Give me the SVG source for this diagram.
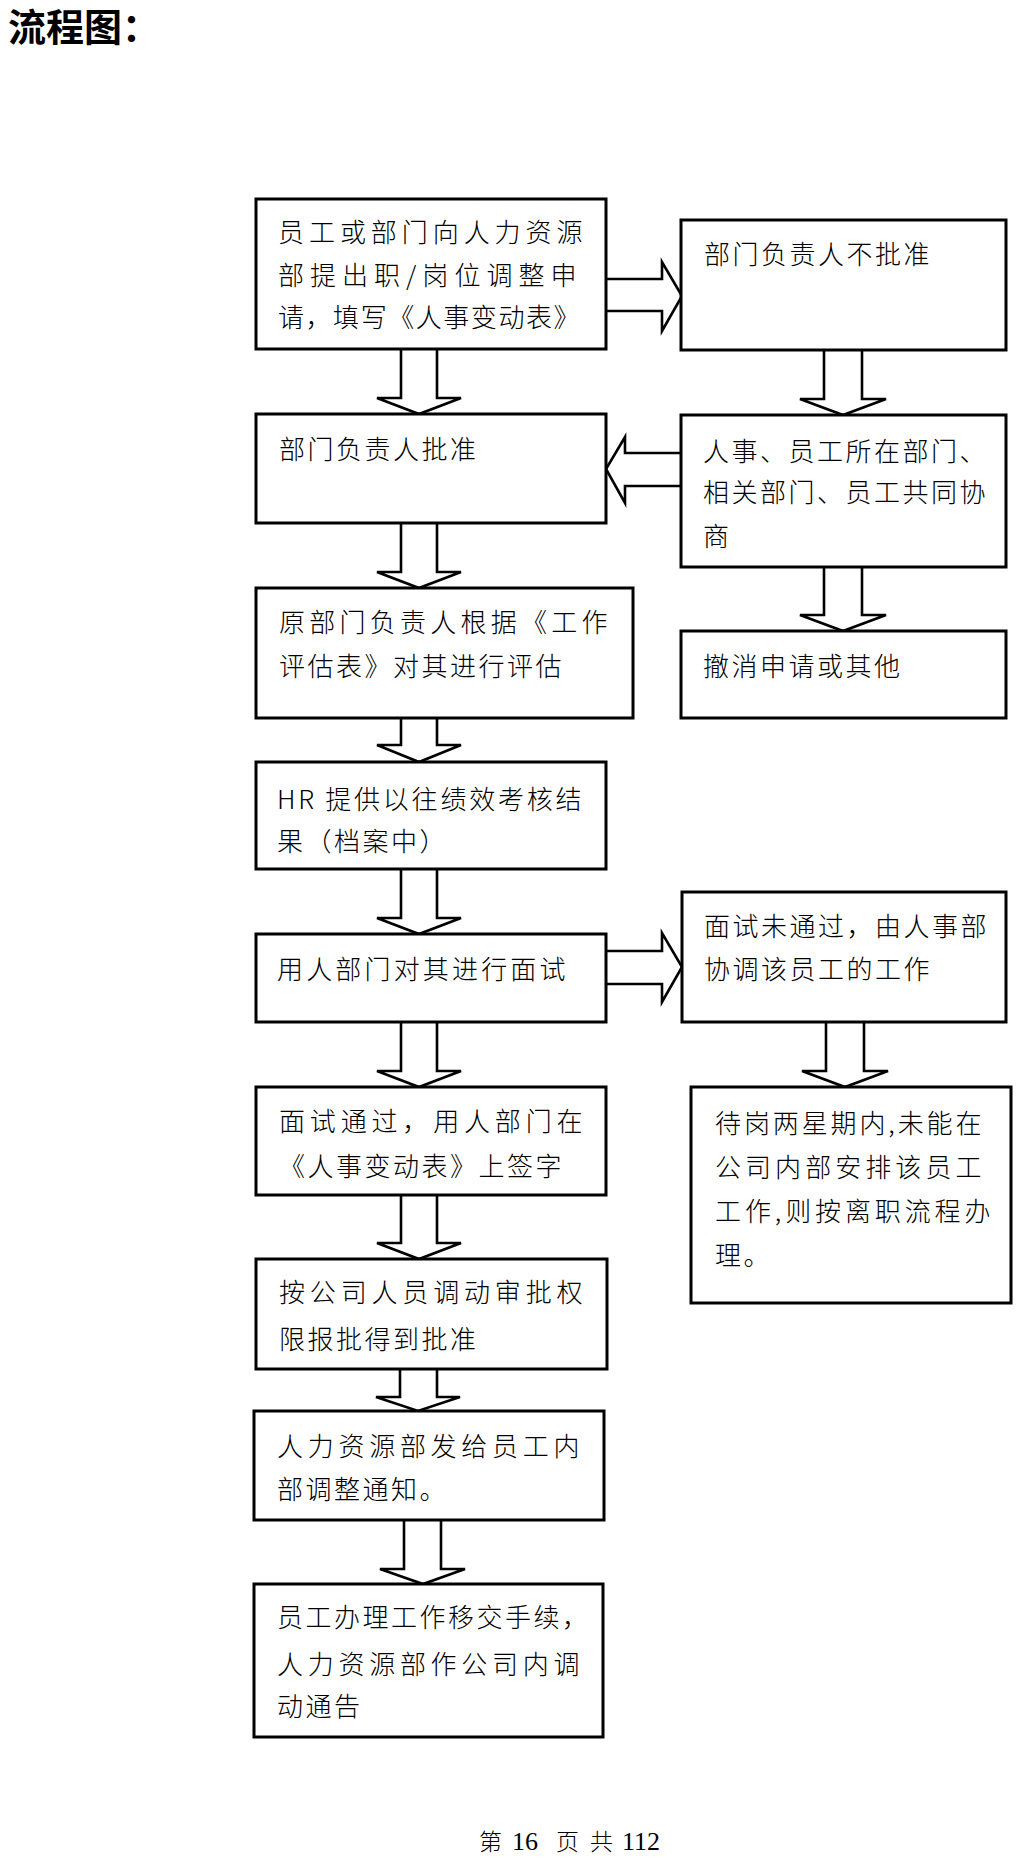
<svg xmlns="http://www.w3.org/2000/svg" width="1022" height="1862" viewBox="0 0 1022 1862">
<style>
.box{fill:#fff;stroke:#000;stroke-width:3}
.arr{fill:#fff;stroke:#000;stroke-width:2.6;stroke-linejoin:miter}
.t{font-family:"Noto Sans CJK SC","Noto Sans CJK JP",sans-serif;font-size:26px;font-weight:300;letter-spacing:2.5px;fill:#000}
.title{font-family:"Noto Sans CJK SC",sans-serif;font-size:38px;font-weight:bold;fill:#000}
.f{font-family:"Liberation Serif","Noto Sans CJK SC",serif;font-size:26px;fill:#000}
.fc{font-family:"Noto Sans CJK SC",serif;font-size:23px;font-weight:300;fill:#000}
</style>
<rect width="1022" height="1862" fill="#fff"/>
<text class="title" x="8" y="41">流程图：</text>

<g id="connectors">
<path class="arr" d="M401,349 V398 H377 L419,414 L461,398 H437 V349"/>
<path class="arr" d="M401,523 V572 H377 L419,588 L461,572 H437 V523"/>
<path class="arr" d="M401,718 V745 H377 L419,762 L461,745 H437 V718"/>
<path class="arr" d="M401,869 V918 H377 L419,934 L461,918 H437 V869"/>
<path class="arr" d="M401,1022 V1071 H377 L419,1087 L461,1071 H437 V1022"/>
<path class="arr" d="M401,1195 V1243 H377 L419,1259 L461,1243 H437 V1195"/>
<path class="arr" d="M400,1369 V1397 H376 L418,1411 L460,1397 H437 V1369"/>
<path class="arr" d="M404,1520 V1569 H380 L423,1584 L465,1569 H441 V1520"/>
<path class="arr" d="M824,350 V399 H800 L843,415 L886,399 H862 V350"/>
<path class="arr" d="M824,567 V615 H800 L843,631 L886,615 H862 V567"/>
<path class="arr" d="M826,1022 V1071 H802 L845,1087 L888,1071 H864 V1022"/>
<path class="arr" d="M606,279 H662 V262 L682,296 L662,331 V311 H606"/>
<path class="arr" d="M606,951 H662 V933 L682,967 L662,1002 V984 H606"/>
<path class="arr" d="M681,453 H625 V437 L606,469 L625,503 V486 H681"/>
</g>

<g id="n1"><rect class="box" x="256" y="199" width="350" height="150"/>
<text class="t" x="278" y="242" textLength="307" lengthAdjust="spacing">员工或部门向人力资源</text>
<text class="t" x="278" y="285" textLength="301" lengthAdjust="spacing">部提出职/岗位调整申</text>
<text class="t" x="278" y="327" textLength="304" lengthAdjust="spacing">请，填写《人事变动表》</text></g>

<g id="n2"><rect class="box" x="256" y="414" width="350" height="109"/>
<text class="t" x="279" y="459">部门负责人批准</text></g>

<g id="n3"><rect class="box" x="256" y="588" width="377" height="130"/>
<text class="t" x="279" y="632" textLength="331" lengthAdjust="spacing">原部门负责人根据《工作</text>
<text class="t" x="279" y="676">评估表》对其进行评估</text></g>

<g id="n4"><rect class="box" x="256" y="762" width="350" height="107"/>
<text class="t" x="277" y="809" textLength="307" lengthAdjust="spacing">HR 提供以往绩效考核结</text>
<text class="t" x="277" y="851">果（档案中）</text></g>

<g id="n5"><rect class="box" x="256" y="934" width="350" height="88"/>
<text class="t" x="277" y="979" textLength="291" lengthAdjust="spacing">用人部门对其进行面试</text></g>

<g id="n6"><rect class="box" x="256" y="1087" width="350" height="108"/>
<text class="t" x="279" y="1131" textLength="306" lengthAdjust="spacing">面试通过，用人部门在</text>
<text class="t" x="279" y="1176">《人事变动表》上签字</text></g>

<g id="n7"><rect class="box" x="256" y="1259" width="351" height="110"/>
<text class="t" x="279" y="1302" textLength="306" lengthAdjust="spacing">按公司人员调动审批权</text>
<text class="t" x="279" y="1349">限报批得到批准</text></g>

<g id="n8"><rect class="box" x="254" y="1411" width="350" height="109"/>
<text class="t" x="277" y="1456" textLength="305" lengthAdjust="spacing">人力资源部发给员工内</text>
<text class="t" x="277" y="1499">部调整通知。</text></g>

<g id="n9"><rect class="box" x="254" y="1584" width="349" height="153"/>
<text class="t" x="277" y="1627">员工办理工作移交手续，</text>
<text class="t" x="277" y="1674" textLength="305" lengthAdjust="spacing">人力资源部作公司内调</text>
<text class="t" x="277" y="1716">动通告</text></g>

<g id="r1"><rect class="box" x="681" y="220" width="325" height="130"/>
<text class="t" x="704" y="264">部门负责人不批准</text></g>

<g id="r2"><rect class="box" x="681" y="415" width="325" height="152"/>
<text class="t" x="703" y="461">人事、员工所在部门、</text>
<text class="t" x="703" y="502">相关部门、员工共同协</text>
<text class="t" x="703" y="546">商</text></g>

<g id="r3"><rect class="box" x="681" y="631" width="325" height="87"/>
<text class="t" x="703" y="676">撤消申请或其他</text></g>

<g id="r4"><rect class="box" x="682" y="892" width="324" height="130"/>
<text class="t" x="704" y="936">面试未通过，由人事部</text>
<text class="t" x="704" y="979">协调该员工的工作</text></g>

<g id="r5"><rect class="box" x="691" y="1087" width="320" height="216"/>
<text class="t" x="715" y="1133" textLength="269" lengthAdjust="spacing">待岗两星期内,未能在</text>
<text class="t" x="715" y="1177" textLength="269" lengthAdjust="spacing">公司内部安排该员工</text>
<text class="t" x="715" y="1221" textLength="278" lengthAdjust="spacing">工作,则按离职流程办</text>
<text class="t" x="715" y="1265">理。</text></g>

<g id="footer">
<text class="fc" x="479" y="1850">第</text>
<text class="f" x="512" y="1850">16</text>
<text class="fc" x="556" y="1850">页</text>
<text class="fc" x="590" y="1850">共</text>
<text class="f" x="622" y="1850">112</text>
</g>
</svg>
